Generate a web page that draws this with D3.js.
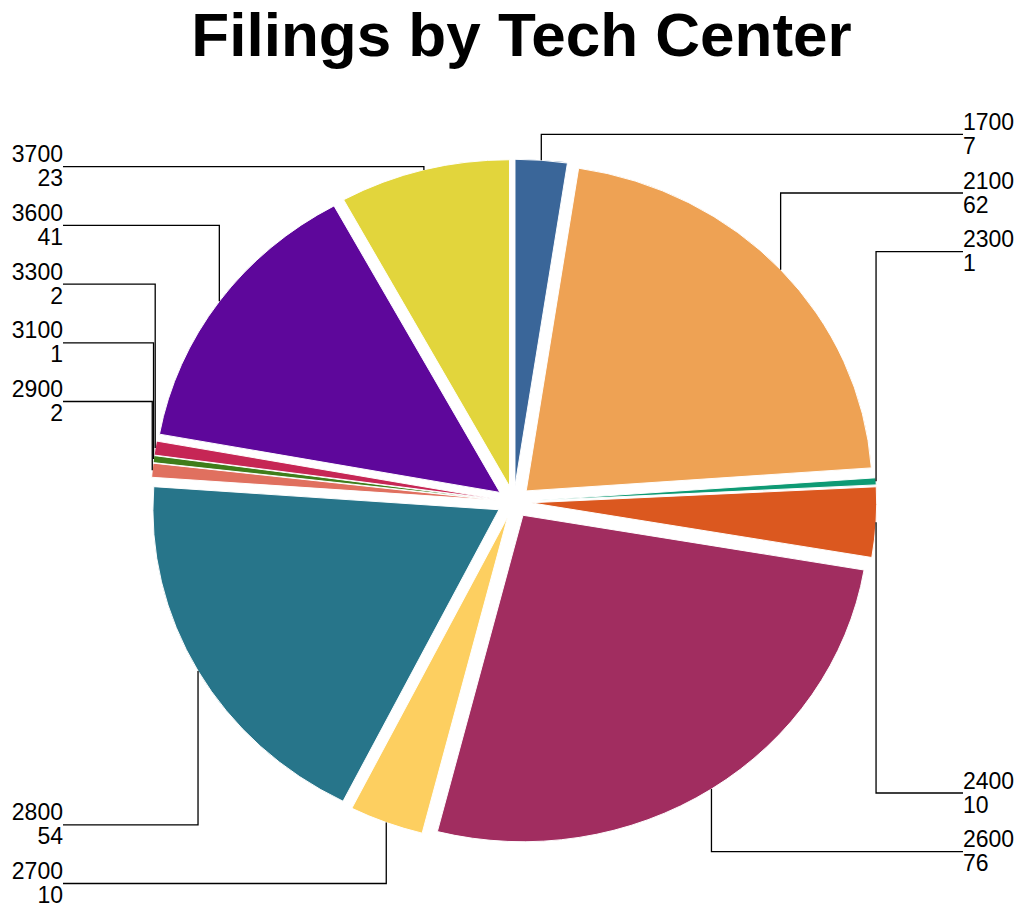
<!DOCTYPE html>
<html>
<head>
<meta charset="utf-8">
<script src="https://cdn.jsdelivr.net/npm/d3@7"></script>
<style>
  body { margin: 0; background: #fff; }
  #chart { width: 1021px; height: 907px; }
  text { font-family: "Liberation Sans", Arial, Helvetica, sans-serif; }
</style>
</head>
<body>
<div id="chart"></div>
<script>
// data
const centers = ["1700", "2100", "2300", "2400", "2600", "2700", "2800", "2900", "3100", "3300", "3600", "3700"];
const filings = [7, 62, 1, 10, 76, 10, 54, 2, 1, 2, 41, 23];
const colors = ["#3a6699", "#eea254", "#0e9a74", "#db581f", "#a12d60", "#fdcf60",
                "#27758a", "#e0705f", "#3f7d1a", "#c62655", "#5e079b", "#e2d53c"];

const rows = centers.map((c, i) => ({ center: c, value: filings[i], color: colors[i] }));

const width = 1021;
const height = 907;

const svg = d3.select("#chart").append("svg")
    .attr("width", width)
    .attr("height", height);

svg.append("text")
    .attr("x", 521.5)
    .attr("y", 56)
    .attr("text-anchor", "middle")
    .style("font-size", "62px")
    .style("font-weight", "bold")
    .text("Filings by Tech Center");

// pie geometry (slightly squashed vertically, like the original)
const cx = 513.7, cy = 501.8;
const r = 346;
const yScale = 326.5 / 346;
const pull = 17;

const pie = d3.pie().sort(null).value(d => d.value);
const arcs = pie(rows);
const arc = d3.arc().innerRadius(0).outerRadius(r);

const g = svg.append("g")
    .attr("transform", `translate(${cx},${cy}) scale(1,${yScale})`);

g.selectAll("path")
    .data(arcs)
    .enter()
    .append("path")
    .attr("d", arc)
    .attr("transform", d => {
        const a = (d.startAngle + d.endAngle) / 2;
        return `translate(${pull * Math.sin(a)},${-pull * Math.cos(a)})`;
    })
    .style("fill", d => d.data.color)
    .style("stroke", "#fff")
    .style("stroke-width", 1);

// label layout
arcs.forEach(d => {
    const a = (d.startAngle + d.endAngle) / 2;
    d.ax = cx + (r + pull) * Math.sin(a);
    d.ay = cy - (r + pull) * Math.cos(a) * yScale;
    d.side = Math.sin(a) >= 0 ? "right" : "left";
});

const step = 58.7;
const rightTop = arcs.filter(d => d.side === "right" && d.ay < cy).sort((a, b) => a.ay - b.ay);
const rightBot = arcs.filter(d => d.side === "right" && d.ay >= cy).sort((a, b) => a.ay - b.ay);
const leftTop = arcs.filter(d => d.side === "left" && d.ay < cy).sort((a, b) => a.ay - b.ay);
const leftBot = arcs.filter(d => d.side === "left" && d.ay >= cy).sort((a, b) => a.ay - b.ay);

rightTop.forEach((d, i) => d.ly = 134.3 + i * step);
rightBot.forEach((d, i) => d.ly = 851.7 - (rightBot.length - 1 - i) * step);
leftTop.forEach((d, i) => d.ly = 166.7 + i * step);
leftBot.forEach((d, i) => d.ly = 883.5 - (leftBot.length - 1 - i) * step);

const labelRightX = 963;
const labelLeftX = 63;

const labels = svg.append("g");

labels.selectAll(".leader")
    .data(arcs)
    .enter()
    .append("path")
    .attr("class", "leader")
    .attr("d", d => {
        const lx = d.side === "right" ? labelRightX : labelLeftX;
        return `M ${lx},${d.ly} L ${d.ax},${d.ly} L ${d.ax},${d.ay}`;
    })
    .style("fill", "none")
    .style("stroke", "#000")
    .style("stroke-width", 1.3);

const lt = labels.selectAll(".lab")
    .data(arcs)
    .enter()
    .append("text")
    .attr("class", "lab")
    .attr("text-anchor", d => d.side === "right" ? "start" : "end")
    .style("font-size", "23px")
    .style("fill", "#000");

lt.append("tspan")
    .attr("x", d => d.side === "right" ? labelRightX : labelLeftX)
    .attr("y", d => d.ly - 4.5)
    .text(d => d.data.center);

lt.append("tspan")
    .attr("x", d => d.side === "right" ? labelRightX : labelLeftX)
    .attr("y", d => d.ly + 19.5)
    .text(d => d.data.value);
</script>
</body>
</html>
